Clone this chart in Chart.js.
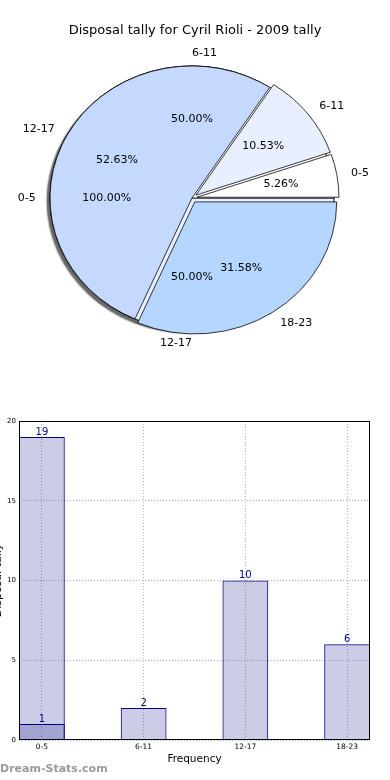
<!DOCTYPE html>
<html lang="en">
<head>
<meta charset="UTF-8" />
<meta name="viewport" content="width=device-width, initial-scale=1" />
<title>Disposal tally for Cyril Rioli - 2009 tally</title>
<script src="https://cdn.jsdelivr.net/npm/chart.js"></script>
<style>
  body { margin: 0; background: #fff; font-family: "DejaVu Sans", sans-serif; }
  #page { position: relative; width: 390px; height: 780px; overflow: hidden; }
  canvas { position: absolute; left: 0; }
  #title { position: absolute; top: 22px; left: 0; width: 390px; text-align: center; font-size: 13px; z-index: 5; }
  #mark { position: absolute; left: 0; top: 762px; font-size: 11px; font-weight: bold; color: #9a9a9a; z-index: 5; }
</style>
</head>
<body>
<div id="page">
  <canvas id="pieWhole" width="390" height="390" style="top:0"></canvas>
  <canvas id="pieHalf" width="390" height="390" style="top:0"></canvas>
  <canvas id="pieMain" width="390" height="390" style="top:0"></canvas>
  <div id="title">Disposal tally for Cyril Rioli - 2009 tally</div>
  <canvas id="bars" width="390" height="370" style="top:410px"></canvas>
  <div id="mark">Dream-Stats.com</div>
</div>

<script>
  // age bins and disposal counts
  const bins = ['0-5', '6-11', '12-17', '18-23'];
  const counts = [1, 2, 10, 6];
  const totalBin = ['0-5'];
  const totalCount = [19];
  // the two extra pies drawn underneath
  const halfBins = ['6-11', '12-17'];
  const halfValues = [1, 1];
  const wholeBins = ['0-5'];
  const wholeValues = [1];

  const pieColors = ['#ffffff', '#e8efff', '#c5d9ff', '#b5d6ff'];
  const squashY = 0.93;

  Chart.defaults.font.family = '"DejaVu Sans"';
  Chart.defaults.color = '#000';

  // draws the pie slightly flattened, with matplotlib-like exploded wedges
  const squash = {
    id: 'squash',
    beforeDatasetsDraw(chart, args, opts) {
      const { ctx, chartArea: a } = chart;
      const cx = (a.left + a.right) / 2, cy = (a.top + a.bottom) / 2;
      ctx.save();
      ctx.translate(cx, cy);
      ctx.scale(1, squashY);
      ctx.translate(-cx, -cy);
      if (opts.shadow) {
        ctx.shadowColor = 'rgba(0,0,0,0.6)';
        ctx.shadowOffsetX = -3;
        ctx.shadowOffsetY = 3;
        ctx.shadowBlur = 1.5;
      }
      const labels = chart.data.labels;
      chart.getDatasetMeta(0).data.forEach((arc, i) => {
        const d = (opts.explode && opts.explode[labels[i]]) || 0;
        const mid = (arc.startAngle + arc.endAngle) / 2;
        ctx.save();
        ctx.translate(Math.cos(mid) * d, Math.sin(mid) * d);
        arc.draw(ctx, a);
        ctx.restore();
      });
      ctx.restore();
      return false;
    }
  };

  // labels + percentages for every pie, drawn on the top canvas
  const pieText = {
    id: 'pieText',
    afterDraw(chart) {
      const ctx = chart.ctx;
      ctx.save();
      ctx.font = '11px "DejaVu Sans"';
      ctx.fillStyle = '#000';
      ctx.textBaseline = 'middle';
      pies.concat([chart]).forEach(p => {
        const meta = p.getDatasetMeta(0);
        const vals = p.data.datasets[0].data;
        const ex = p.options.plugins.squash.explode || {};
        meta.data.forEach((arc, i) => {
          const lab = p.data.labels[i];
          const d = ex[lab] || 0;
          const mid = (arc.startAngle + arc.endAngle) / 2;
          const c = Math.cos(2 * Math.PI - mid), s = Math.sin(mid);
          const r = arc.outerRadius;
          ctx.textAlign = c > 0 ? 'left' : 'right';
          ctx.fillText(lab, arc.x + (d + r * 1.1) * c, arc.y + (d + r * 1.1) * s * squashY);
          ctx.textAlign = 'center';
          const pct = (vals[i] / meta.total * 100).toFixed(2) + '%';
          ctx.fillText(pct, arc.x + (d + r * 0.6) * c, arc.y + (d + r * 0.6) * s * squashY);
        });
      });
      ctx.restore();
    }
  };

  const pies = [];

  // matplotlib goes counter-clockwise from 3 o'clock, chart.js clockwise: reverse
  function makePie(id, labels, values, colors, pluginOpts, extra) {
    return new Chart(document.getElementById(id), {
      type: 'pie',
      data: {
        labels: labels.slice().reverse(),
        datasets: [{
          data: values.slice().reverse(),
          backgroundColor: colors.slice().reverse(),
          borderColor: '#000',
          borderWidth: 0.8
        }]
      },
      options: {
        responsive: false,
        animation: false,
        events: [],
        rotation: 90,
        radius: 142,
        layout: { padding: { left: 0, right: 6, top: 6, bottom: 0 } },
        plugins: {
          legend: { display: false },
          tooltip: { enabled: false },
          squash: pluginOpts
        }
      },
      plugins: [squash].concat(extra)
    });
  }

  pies.push(makePie('pieWhole', wholeBins, wholeValues, ['#ffffff'], { shadow: true }, []));
  pies.push(makePie('pieHalf', halfBins, halfValues, ['#ffffff', '#e8efff'], { shadow: false }, []));
  makePie('pieMain', bins, counts, pieColors,
    { shadow: false, explode: { '0-5': 5, '6-11': 5, '18-23': 5 } }, [pieText]);

  const frame = {
    id: 'frame',
    afterDraw(chart) {
      const { ctx, chartArea: a } = chart;
      ctx.save();
      ctx.strokeStyle = '#000';
      ctx.lineWidth = 1;
      ctx.strokeRect(a.left + 0.5, a.top + 0.5, a.width - 1, a.height - 1);
      ctx.restore();
    }
  };

  const barValues = {
    id: 'barValues',
    afterDatasetsDraw(chart) {
      const ctx = chart.ctx;
      ctx.save();
      ctx.font = '10px "DejaVu Sans"';
      ctx.fillStyle = '#00008b';
      ctx.textAlign = 'center';
      ctx.textBaseline = 'bottom';
      chart.data.datasets.forEach((ds, di) => {
        chart.getDatasetMeta(di).data.forEach((bar, i) => {
          ctx.fillText(ds.data[i].y, bar.x, bar.y);
        });
      });
      ctx.restore();
    }
  };

  const barStyle = {
    backgroundColor: 'rgba(0,0,128,0.2)',
    borderColor: '#000080',
    borderWidth: 1,
    grouped: false,
    categoryPercentage: 1,
    barPercentage: 0.45
  };

  const gridStyle = { color: '#b4b4b4', lineWidth: 1, drawTicks: false, offset: false };

  new Chart(document.getElementById('bars'), {
    type: 'bar',
    data: {
      datasets: [
        Object.assign({ data: totalBin.map((b, i) => ({ x: bins.indexOf(b), y: totalCount[i] })) }, barStyle),
        Object.assign({ data: bins.map((b, i) => ({ x: i, y: counts[i] })) }, barStyle)
      ]
    },
    options: {
      responsive: false,
      animation: false,
      events: [],
      layout: { padding: { top: 11, right: 20, left: 0, bottom: 0 } },
      plugins: { legend: { display: false }, tooltip: { enabled: false } },
      scales: {
        x: {
          type: 'linear',
          offset: false,
          min: -0.225,
          max: 3.225,
          afterBuildTicks: s => { s.ticks = bins.map((b, i) => ({ value: i })); },
          afterFit: s => { s.height = 40; },
          ticks: { callback: v => bins[v], font: { size: 7.5 }, padding: 3, autoSkip: false, maxRotation: 0 },
          grid: gridStyle,
          border: { display: false, dash: [1, 2] },
          title: { display: true, text: 'Frequency', font: { size: 10.5 }, padding: { top: 0, bottom: 14 } }
        },
        y: {
          min: 0,
          max: 20,
          afterFit: s => { s.width = 19; },
          ticks: { stepSize: 5, font: { size: 7 }, padding: 3 },
          grid: gridStyle,
          border: { display: false, dash: [1, 2] },
          title: { display: true, text: 'Disposal tally', font: { size: 11 }, padding: { top: -8.5, bottom: 0 } }
        }
      }
    },
    plugins: [frame, barValues]
  });
</script>
</body>
</html>
